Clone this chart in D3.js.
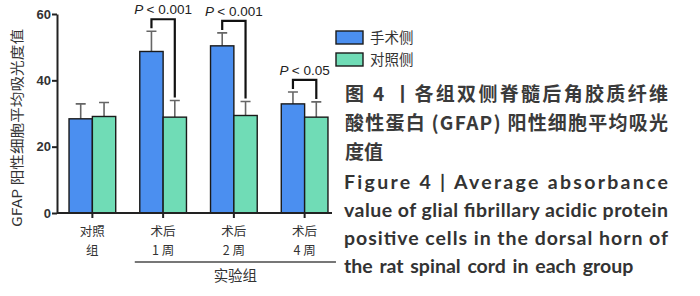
<!DOCTYPE html>
<html>
<head>
<meta charset="utf-8">
<script src="https://cdn.jsdelivr.net/npm/d3@7"></script>
<style>
  body { margin: 0; background: #fff; }
  svg { display: block; }
</style>
</head>
<body>
<div id="chart"></div>
<script>
// data
const groups = ["对照组", "术后1周", "术后2周", "术后4周"];
const groupLines = [["对照", "组"], ["术后", "1 周"], ["术后", "2 周"], ["术后", "4 周"]];
const seriesNames = ["手术侧", "对照侧"];
const surgeryMean = [28.4, 48.7, 50.4, 32.9];
const surgeryErr = [4.5, 6.1, 3.9, 3.6];
const controlMean = [29.1, 28.9, 29.4, 28.9];
const controlErr = [4.2, 5.0, 4.2, 4.6];
const yTicks = [0, 20, 40, 60];
const pLabels = [null, "< 0.001", "< 0.001", "< 0.05"];

const colors = ["#4b8ff0", "#70dcb6"];

const W = 700, H = 296;
const svg = d3.select("#chart").append("svg")
    .attr("width", W)
    .attr("height", H);

// plot area
const x0 = 57, x1 = 332, yTop = 14, yBot = 213;

const xScale = d3.scaleBand()
    .domain(groups)
    .range([x0, x1 + 8])
    .paddingInner(0.34)
    .paddingOuter(0.17);

const xSub = d3.scaleBand()
    .domain(seriesNames)
    .range([0, xScale.bandwidth()]);

const yScale = d3.scaleLinear()
    .domain([0, 60])
    .range([yBot, yTop]);

const data = groups.map((g, i) => ({
    group: g,
    vals: [
        { s: seriesNames[0], m: surgeryMean[i], e: surgeryErr[i] },
        { s: seriesNames[1], m: controlMean[i], e: controlErr[i] }
    ]
}));

// error bars (behind bars)
const gs = svg.selectAll(".grp")
    .data(data)
    .enter().append("g")
    .attr("class", "grp")
    .attr("transform", d => "translate(" + xScale(d.group) + ",0)");

gs.selectAll(".err")
    .data(d => d.vals)
    .enter().append("path")
    .attr("class", "err")
    .attr("d", d => {
        const cx = xSub(d.s) + xSub.bandwidth() / 2;
        const yt = yScale(d.m + d.e);
        return "M" + cx + "," + yScale(d.m) + "V" + yt + "M" + (cx - 5) + "," + yt + "H" + (cx + 5);
    })
    .attr("stroke", "#666")
    .attr("stroke-width", 1.6)
    .attr("fill", "none");

gs.selectAll(".bar")
    .data(d => d.vals)
    .enter().append("rect")
    .attr("class", "bar")
    .attr("x", d => xSub(d.s))
    .attr("y", d => yScale(d.m))
    .attr("width", xSub.bandwidth())
    .attr("height", d => yBot - yScale(d.m))
    .attr("fill", (d, i) => colors[i])
    .attr("stroke", "#1a1a1a")
    .attr("stroke-width", 1.4);

// significance brackets
data.forEach((d, i) => {
    if (!pLabels[i]) return;
    const bx = xScale(d.group);
    const lx = bx + xSub(seriesNames[0]) + xSub.bandwidth() / 2;
    const rx = bx + xSub(seriesNames[1]) + xSub.bandwidth() / 2;
    const topVal = Math.max(d.vals[0].m + d.vals[0].e, d.vals[1].m + d.vals[1].e);
    const by = yScale(topVal) - 12;
    const ly = yScale(d.vals[0].m + d.vals[0].e) - 3;
    const ry = yScale(d.vals[1].m + d.vals[1].e) - 3;
    svg.append("path")
        .attr("d", "M" + lx + "," + ly + "V" + by + "H" + rx + "V" + ry)
        .attr("stroke", "#111")
        .attr("stroke-width", 2.2)
        .attr("fill", "none");
    const t = svg.append("text")
        .attr("x", (lx + rx) / 2)
        .attr("y", by - 5)
        .attr("text-anchor", "middle")
        .attr("font-family", "Liberation Sans, sans-serif")
        .attr("font-size", 13.5)
        .attr("fill", "#222");
    t.append("tspan").attr("font-style", "italic").text("P ");
    t.append("tspan").text(pLabels[i]);
});

// axes
const yAxis = svg.append("g")
    .attr("transform", "translate(" + x0 + ",0)")
    .call(d3.axisLeft(yScale).tickValues(yTicks).tickSize(5).tickSizeOuter(0));
yAxis.select(".domain").attr("stroke", "#222").attr("stroke-width", 2);
yAxis.selectAll(".tick line").attr("stroke", "#222").attr("stroke-width", 2);
yAxis.selectAll("text")
    .attr("font-family", "Liberation Sans, sans-serif")
    .attr("font-size", 13)
    .attr("font-weight", "bold")
    .attr("fill", "#333")
    .attr("x", -6);

const xAxis = svg.append("g")
    .attr("transform", "translate(0," + yBot + ")")
    .call(d3.axisBottom(xScale).tickSize(5).tickSizeOuter(0).tickFormat(""));
xAxis.select(".domain").attr("stroke", "#222").attr("stroke-width", 2)
    .attr("d", "M" + x0 + ",0H" + x1);
xAxis.selectAll(".tick line").attr("stroke", "#222").attr("stroke-width", 2);

// two-line category labels
groups.forEach((g, i) => {
    const cx = xScale(g) + xScale.bandwidth() / 2;
    const t = svg.append("text")
        .attr("text-anchor", "middle")
        .attr("font-family", "Noto Sans CJK SC, sans-serif")
        .attr("font-size", 12.5)
        .attr("fill", "#333");
    groupLines[i].forEach((ln, k) => {
        t.append("tspan")
            .attr("x", cx)
            .attr("y", 236 + k * 18.6)
            .text(ln);
    });
});

// experimental group bracket
const expL = xScale(groups[1]) - 5;
const expR = xScale(groups[3]) + xScale.bandwidth() + 8;
svg.append("line")
    .attr("x1", expL).attr("x2", expR)
    .attr("y1", 262).attr("y2", 262)
    .attr("stroke", "#777")
    .attr("stroke-width", 1.8);
svg.append("text")
    .attr("x", (expL + expR) / 2)
    .attr("y", 281)
    .attr("text-anchor", "middle")
    .attr("font-family", "Noto Sans CJK SC, sans-serif")
    .attr("font-size", 14.5)
    .attr("fill", "#333")
    .text("实验组");

// y title
svg.append("text")
    .attr("transform", "translate(22," + 128 + ") rotate(-90)")
    .attr("text-anchor", "middle")
    .attr("font-family", "Noto Sans CJK SC, sans-serif")
    .attr("font-size", 13.5)
    .attr("fill", "#333")
    .attr("textLength", 198)
    .attr("lengthAdjust", "spacingAndGlyphs")
    .text("GFAP 阳性细胞平均吸光度值");

// legend
const legend = svg.append("g").attr("transform", "translate(336,31)");
seriesNames.forEach((s, i) => {
    legend.append("rect")
        .attr("x", 0).attr("y", i * 22)
        .attr("width", 27).attr("height", 13)
        .attr("fill", colors[i])
        .attr("stroke", "#1a1a1a")
        .attr("stroke-width", 1.4);
    legend.append("text")
        .attr("x", 34).attr("y", i * 22 + 12)
        .attr("font-family", "Noto Sans CJK SC, sans-serif")
        .attr("font-size", 14.5)
        .attr("fill", "#333")
        .text(s);
});

// caption
const capCn = ["图 4 丨各组双侧脊髓后角胶质纤维", "酸性蛋白 (GFAP) 阳性细胞平均吸光", "度值"];
capCn.forEach((ln, i) => {
    const t = svg.append("text")
        .attr("x", 345)
        .attr("y", 101 + i * 29)
        .attr("font-family", "Noto Sans CJK SC, sans-serif")
        .attr("font-size", 19)
        .attr("font-weight", "bold")
        .attr("fill", "#3a3a3a")
        .text(ln);
    if (i < 2) t.attr("textLength", 323).attr("lengthAdjust", "spacing");
});

const capEn = ["Figure 4  |  Average absorbance", "value of glial fibrillary acidic protein",
    "positive cells in the dorsal horn of", "the rat spinal cord in each group"];
capEn.forEach((ln, i) => {
    const t = svg.append("text")
        .attr("x", 344)
        .attr("y", 189 + i * 28)
        .attr("font-family", "Lato, sans-serif")
        .attr("font-size", 19.5)
        .attr("font-weight", "bold")
        .attr("fill", "#333")
        .text(ln);
    if (i < 3) t.attr("textLength", 324).attr("lengthAdjust", "spacing");
    else t.attr("word-spacing", 2);
});
</script>
</body>
</html>
